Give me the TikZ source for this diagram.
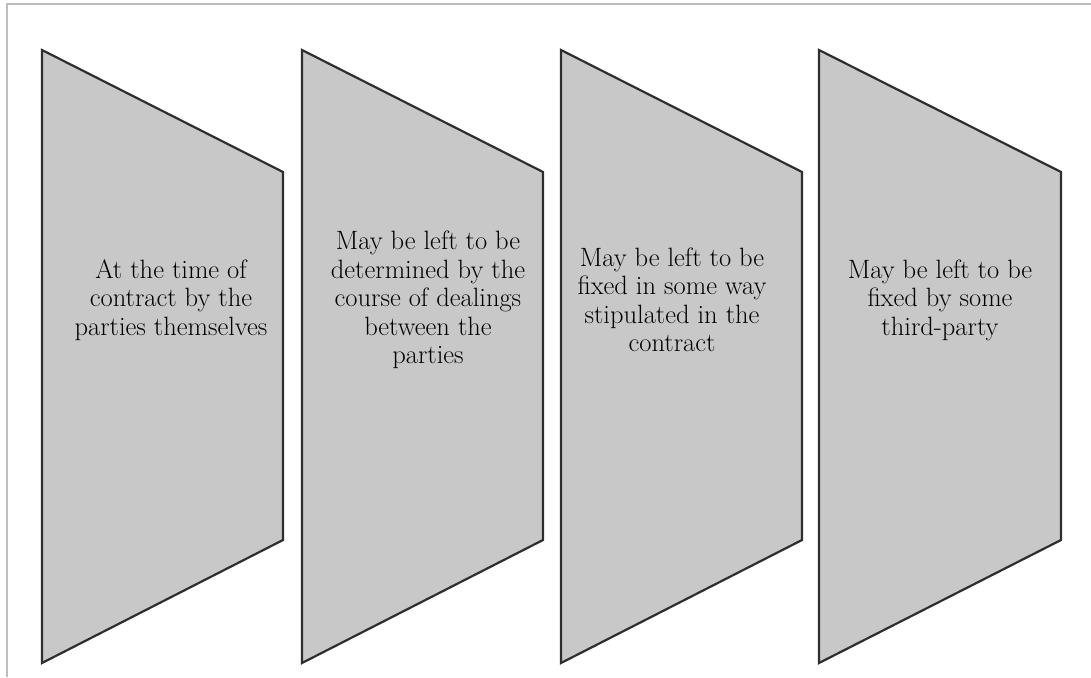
\documentclass[tikz,border=0pt]{standalone}
\definecolor{panelgray}{HTML}{C8C8C8}
\definecolor{edgegray}{HTML}{2E2E2E}
\definecolor{framegray}{HTML}{BDBDBD}
\begin{document}
\begin{tikzpicture}[x=1pt,y=-1pt,
  panel/.style={draw=edgegray, fill=panelgray, line width=2.2pt, line join=miter},
  label/.style={align=center, font=\fontsize{26.5}{28.5}\selectfont, text=black}]
\useasboundingbox (0,0) rectangle (1091,677);
% outer frame (top and left rules)
\draw[framegray, line width=1.2pt] (7,677) -- (7,4) -- (1091,4);
% four tapered panels
\foreach \l/\r in {42/283, 302/543, 561/802, 819/1061}
  \draw[panel] (\l,50) -- (\r,172) -- (\r,540) -- (\l,663) -- cycle;
% panel texts
\node[label] (t1) at (171,300) {At the time of\\contract by the\\parties themselves};
\node[label] (t2) at (428,300) {May be left to be\\determined by the\\course of dealings\\between the\\parties};
\node[label] (t3) at (672,300) {May be left to be\\fixed in some way\\stipulated in the\\contract};
\node[label] (t4) at (940,300) {May be left to be\\fixed by some\\third-party};
\end{tikzpicture}
\end{document}
